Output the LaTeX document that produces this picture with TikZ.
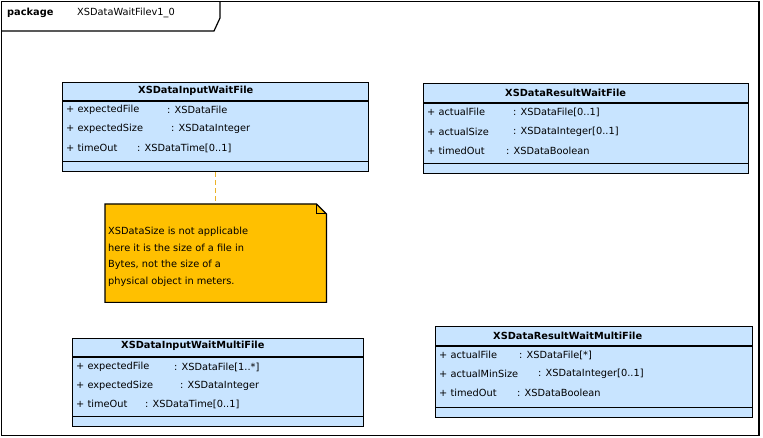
\documentclass[tikz,border=0pt]{standalone}
\usepackage{fontspec}
\setmainfont{DejaVu Sans}
\definecolor{classblue}{RGB}{200,228,255}
\definecolor{notegold}{RGB}{255,192,0}
\definecolor{linkgold}{RGB}{235,178,40}
\begin{document}
\begin{tikzpicture}[x=1pt,y=-1pt,
    every node/.style={font=\fontsize{9.8}{11}\selectfont,inner sep=0pt},
    classbox/.style={draw,line width=1.2pt,fill=classblue,anchor=north west},
    hdr/.style={anchor=west,font=\fontsize{9.8}{11}\selectfont\bfseries},
    attr/.style={anchor=west}]
    \useasboundingbox (0,0) rectangle (763,438);
    % Package frame and its tab
    \draw[line width=1.2pt] (1.5,1.5) rectangle (759,435.5);
    \draw[line width=1.2pt] (1.5,31) -- (214,31) -- (220,18) -- (220,1.5);
    \node[hdr] (pkgkw) at (7,13) {package};
    \node[attr] (pkgname) at (77,13) {XSDataWaitFilev1\_0};
    % XSDataInputWaitFile
    \node[classbox,minimum width=306pt,minimum height=89pt] (inFile) at (62,82) {};
    \draw[line width=1.2pt] ([yshift=-19pt]inFile.north west) -- ([yshift=-19pt]inFile.north east);
    \draw[line width=1.2pt] ([yshift=11pt]inFile.south west) -- ([yshift=11pt]inFile.south east);
    \node[hdr] (inFileHdr) at (138,91) {XSDataInputWaitFile};
    \foreach \y/\nm/\tx/\ty in {110/expectedFile/167/XSDataFile,
        129/expectedSize/171/XSDataInteger, 148/timeOut/137/XSDataTime[0..1]} {
      \node[attr] (inFileN\y) at (66,\y) {+ \nm};
      \node[attr] (inFileT\y) at (\tx,\y) {: \ty};
    }
    % XSDataResultWaitFile
    \node[classbox,minimum width=325pt,minimum height=90pt] (resFile) at (423,83) {};
    \draw[line width=1.2pt] ([yshift=-20pt]resFile.north west) -- ([yshift=-20pt]resFile.north east);
    \draw[line width=1.2pt] ([yshift=11pt]resFile.south west) -- ([yshift=11pt]resFile.south east);
    \node[hdr] (resFileHdr) at (505,93) {XSDataResultWaitFile};
    \foreach \y/\nm/\tx/\ty in {112/actualFile/513/XSDataFile[0..1],
        132/actualSize/513/XSDataInteger[0..1], 151/timedOut/506/XSDataBoolean} {
      \node[attr] (resFileN\y) at (427,\y) {+ \nm};
      \node[attr] (resFileT\y) at (\tx,\y) {: \ty};
    }
    % Note on the input class
    \node[minimum width=221pt,minimum height=98pt,anchor=north west] (memo) at (105,204) {};
    \filldraw[fill=notegold,line width=1.2pt] (memo.north west) -- ([xshift=-10pt]memo.north east)
      -- ([yshift=-10pt]memo.north east) -- (memo.south east) -- (memo.south west) -- cycle;
    \draw[line width=1pt] ([xshift=-10pt]memo.north east) -- ([xshift=-10pt,yshift=-10pt]memo.north east)
      -- ([yshift=-10pt]memo.north east);
    \node[anchor=north west,align=left,font=\fontsize{9.8}{16.6}\selectfont] (memoText) at (108,227)
      {XSDataSize is not applicable\\here it is the size of a file in\\Bytes, not the size of a\\physical object in meters.};
    \draw[linkgold,line width=1pt,dash pattern=on 5pt off 3pt] (inFile.south) -- (inFile.south |- memo.north);
    % XSDataInputWaitMultiFile
    \node[classbox,minimum width=291pt,minimum height=88pt] (inMulti) at (72,338) {};
    \draw[line width=1.2pt] ([yshift=-19pt]inMulti.north west) -- ([yshift=-19pt]inMulti.north east);
    \draw[line width=1.2pt] ([yshift=11pt]inMulti.south west) -- ([yshift=11pt]inMulti.south east);
    \node[hdr] (inMultiHdr) at (121,346) {XSDataInputWaitMultiFile};
    \foreach \y/\nm/\tx/\ty in {367/expectedFile/174/XSDataFile[1..*],
        386/expectedSize/180/XSDataInteger, 404/timeOut/145/XSDataTime[0..1]} {
      \node[attr] (inMultiN\y) at (76,\y) {+ \nm};
      \node[attr] (inMultiT\y) at (\tx,\y) {: \ty};
    }
    % XSDataResultWaitMultiFile
    \node[classbox,minimum width=317pt,minimum height=91pt] (resMulti) at (435,326) {};
    \draw[line width=1.2pt] ([yshift=-20pt]resMulti.north west) -- ([yshift=-20pt]resMulti.north east);
    \draw[line width=1.2pt] ([yshift=11pt]resMulti.south west) -- ([yshift=11pt]resMulti.south east);
    \node[hdr] (resMultiHdr) at (493,336) {XSDataResultWaitMultiFile};
    \foreach \y/\nm/\tx/\ty in {355/actualFile/519/XSDataFile[*],
        374/actualMinSize/538/XSDataInteger[0..1], 393/timedOut/517/XSDataBoolean} {
      \node[attr] (resMultiN\y) at (439,\y) {+ \nm};
      \node[attr] (resMultiT\y) at (\tx,\y) {: \ty};
    }
\end{tikzpicture}
\end{document}
